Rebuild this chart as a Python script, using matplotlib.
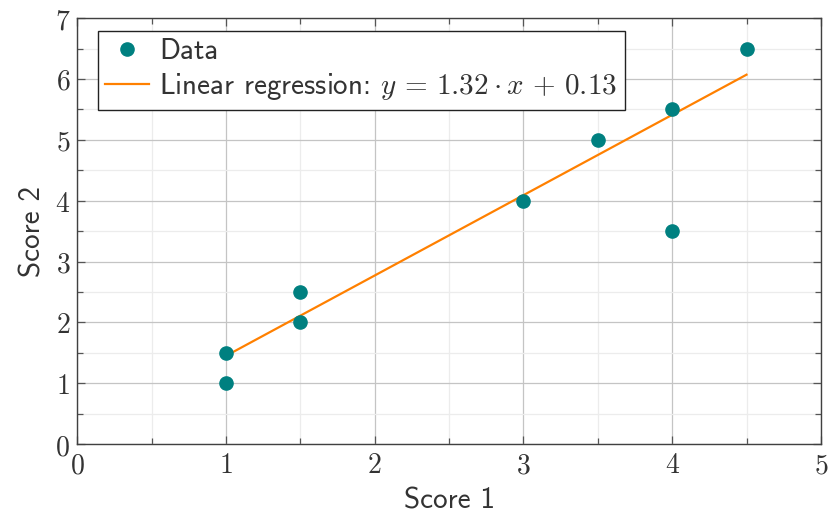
import numpy as np
import matplotlib.pyplot as plt
from matplotlib.ticker import MultipleLocator, FuncFormatter

# data
score1 = [1, 1, 1.5, 1.5, 3, 3.5, 4, 4, 4.5]
score2 = [1, 1.5, 2, 2.5, 4, 5, 5.5, 3.5, 6.5]
slope = 1.32
intercept = 0.13

plt.rcParams['mathtext.fontset'] = 'cm'
txt = '#333333'
sans = 'cmss10'

fig = plt.figure(figsize=(8.3, 5.17), dpi=100)
ax = fig.add_axes([0.093, 0.141, 0.896, 0.824])

xl = np.array([min(score1), max(score1)])
ax.plot(score1, score2, 'o', color='#008080', ms=9.5, label='Data', zorder=3)
ax.plot(xl, slope * xl + intercept, '-', color='#ff8000', lw=1.6,
        label=r'Linear regression: $y\,=\,1.32\cdot x\,+\,0.13$', zorder=2)

ax.set_xlim(0, 5)
ax.set_ylim(0, 7)
ax.xaxis.set_major_locator(MultipleLocator(1))
ax.yaxis.set_major_locator(MultipleLocator(1))
ax.xaxis.set_minor_locator(MultipleLocator(0.5))
ax.yaxis.set_minor_locator(MultipleLocator(0.5))
fmt = FuncFormatter(lambda v, p: '$%d$' % round(v))
ax.xaxis.set_major_formatter(fmt)
ax.yaxis.set_major_formatter(fmt)

ax.grid(which='major', color='#c4c4c4', lw=0.9)
ax.grid(which='minor', color='#ececec', lw=0.9)
ax.set_axisbelow(True)
ax.tick_params(which='both', direction='in', top=True, right=True,
               color='#555555', labelsize=20, labelcolor=txt)
ax.tick_params(which='major', length=6, width=0.9, pad=5)
ax.tick_params(which='minor', length=4, width=0.9)
for s in ax.spines.values():
    s.set_color('#404040')
    s.set_linewidth(1.0)

ax.set_xlabel('Score 1', family=sans, fontsize=21, color=txt, labelpad=6)
ax.set_ylabel('Score 2', family=sans, fontsize=21, color=txt, labelpad=6)

leg = ax.legend(loc='upper left', bbox_to_anchor=(0.028, 0.9695),
                prop={'family': sans, 'size': 21}, fancybox=False,
                framealpha=1, edgecolor='#222222', handlelength=1.5,
                handletextpad=0.35, borderpad=0.25, labelspacing=0.2,
                borderaxespad=0)
leg.get_frame().set_linewidth(1.0)
for t in leg.get_texts():
    t.set_color(txt)

plt.savefig('out.png', dpi=100)
